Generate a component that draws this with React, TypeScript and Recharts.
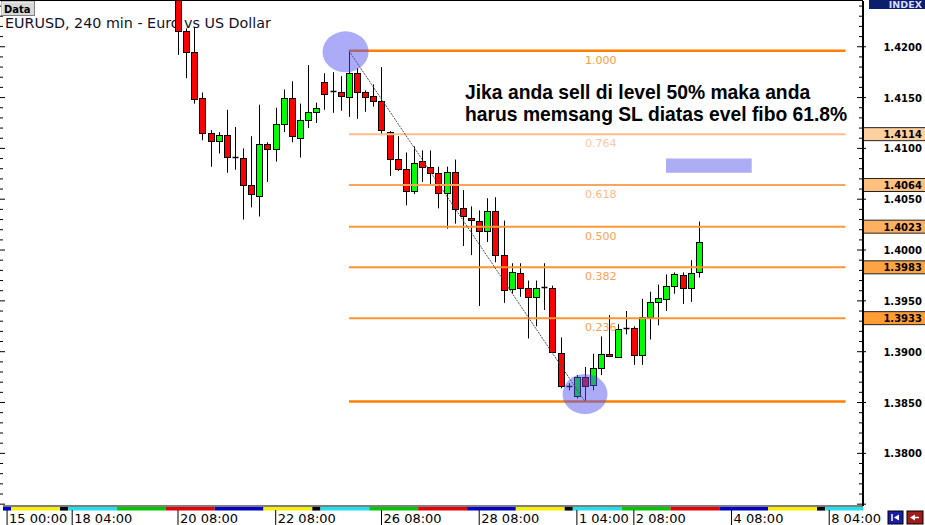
import React from "react";
import {
  ComposedChart,
  Bar,
  XAxis,
  YAxis,
  ReferenceLine,
  ReferenceArea,
  ReferenceDot,
} from "recharts";

// EURUSD H4 candles (one entry per bar)
const opens = [
  1.425, 1.4215, 1.4195, 1.415, 1.4115, 1.4107, 1.4113, 1.4092, 1.4091, 1.4064,
  1.4053, 1.4104, 1.4099, 1.4124, 1.415, 1.411, 1.4128, 1.4136, 1.4165, 1.4156,
  1.4155, 1.4151, 1.4174, 1.4155, 1.4152, 1.4147, 1.4116, 1.409, 1.408, 1.4058,
  1.4088, 1.4082, 1.4076, 1.4056, 1.4077, 1.4041, 1.4032, 1.4029, 1.4019, 1.4038,
  1.3995, 1.3962, 1.3977, 1.3963, 1.3954, 1.3964, 1.3963, 1.3899, 1.3866, 1.3856,
  1.3875, 1.3867, 1.3884, 1.3898, 1.3895, 1.3923, 1.3923, 1.3897, 1.3934, 1.3949,
  1.3952, 1.3965, 1.3975, 1.3963, 1.3978,
];
const highs = [
  1.4262, 1.4218, 1.4219, 1.4155, 1.4118, 1.4116, 1.4138, 1.4121, 1.41, 1.4112,
  1.4143, 1.4106, 1.414, 1.4158, 1.4166, 1.4144, 1.4182, 1.4145, 1.4174, 1.4175,
  1.4171, 1.4196, 1.4179, 1.4157, 1.4163, 1.418, 1.4117, 1.4112, 1.4096, 1.4102,
  1.4098, 1.4098, 1.4082, 1.4082, 1.4089, 1.4059, 1.4043, 1.4039, 1.4051, 1.4052,
  1.4029, 1.3987, 1.3987, 1.397, 1.397, 1.3987, 1.3965, 1.3914, 1.3869, 1.3877,
  1.3885, 1.3898, 1.3915, 1.3936, 1.3927, 1.394, 1.3925, 1.3952, 1.3959, 1.3966,
  1.3976, 1.3978, 1.3978, 1.399, 1.4028,
];
const lows = [
  1.4192, 1.4169, 1.4144, 1.4108, 1.4082, 1.4095, 1.4076, 1.4079, 1.403, 1.4042,
  1.4033, 1.4067, 1.4087, 1.4116, 1.4106, 1.4091, 1.412, 1.4125, 1.4138, 1.4135,
  1.4137, 1.4131, 1.4129, 1.4136, 1.4141, 1.4113, 1.4073, 1.4078, 1.4044, 1.4055,
  1.4067, 1.4064, 1.4041, 1.4021, 1.4026, 1.4004, 1.3995, 1.3945, 1.4008, 1.3988,
  1.3948, 1.3957, 1.3954, 1.3913, 1.3925, 1.3941, 1.3899, 1.3864, 1.3862, 1.3854,
  1.3851, 1.3862, 1.3877, 1.3895, 1.3894, 1.3917, 1.3887, 1.3887, 1.3912, 1.3926,
  1.394, 1.3957, 1.3947, 1.3949, 1.3973,
];
const closes = [
  1.4215, 1.4195, 1.4149, 1.4115, 1.4107, 1.4113, 1.4092, 1.4091, 1.4064, 1.4055,
  1.4104, 1.4099, 1.4124, 1.415, 1.4112, 1.4128, 1.4136, 1.414, 1.4154, 1.4155,
  1.4152, 1.4174, 1.4155, 1.4151, 1.4147, 1.4118, 1.409, 1.408, 1.4058, 1.4086,
  1.4082, 1.4076, 1.4056, 1.4077, 1.404, 1.4033, 1.403, 1.4019, 1.4038, 1.3995,
  1.3961, 1.3978, 1.3963, 1.3954, 1.3963, 1.3964, 1.39, 1.3866, 1.3865, 1.3875,
  1.3866, 1.3884, 1.3898, 1.3896, 1.3922, 1.3922, 1.3897, 1.3934, 1.3949, 1.3953,
  1.3965, 1.3976, 1.3963, 1.3977, 1.4008,
];

// time axis (bar index -> label)
const timeTicks = [-21, -13, 0, 12, 25, 37, 49, 56, 68, 80];
const timeLabels = [
  "15 00:00", "18 04:00", "20 08:00", "22 08:00", "26 08:00",
  "28 08:00", "1 04:00", "2 08:00", "4 08:00", "8 04:00",
];

// fibonacci retracement drawn from the swing high (bar 21) to the swing low (bar 50)
const fibRatios = ["1.000", "0.764", "0.618", "0.500", "0.382", "0.236", "0.000"];
const fibPrices = [1.4196, 1.4114, 1.4064, 1.4023, 1.3983, 1.3933, 1.3851];
const fibBoxed = [false, true, true, true, true, true, false];
const fibFrom = 21;
const fibTo = 82;
const fibLabelAt = 50;
const swingHigh = { i: 21, p: 1.4196 };
const swingLow = { i: 50, p: 1.3851 };

// session colour strip under the plot
const sessionEdges = [
  -21.5, -20.5, -14.5, -13.5, -7.5, -1.5, 4.5, 10.5, 16.5, 17.5, 23.5, 29.5,
  35.5, 41.5, 47.5, 48.5, 54.5, 60.5, 66.5, 72.5, 78.5, 79.5, 84.15,
];
const sessionNames = [
  "thu", "fri", "sun", "mon", "tue", "wed", "thu", "fri", "sun", "mon", "tue",
  "wed", "thu", "fri", "sun", "mon", "tue", "wed", "thu", "fri", "sun", "mon",
];

const xDomain: [number, number] = [-21.5, 84.15];
const yDomain: [number, number] = [1.37482, 1.4245];
const lowestLabel = 1.38;

const priceTicks: number[] = [];
for (let k = 1375; k <= 1424; k++) priceTicks.push(k / 1000);

const sessionColor: Record<string, string> = {
  mon: "#20E0F0",
  tue: "#00C800",
  wed: "#E80000",
  thu: "#0000C8",
  fri: "#F8F000",
  sun: "#000000",
};
const fibLineColor = ["#FF7F00", "#FFBE8C", "#FFA45A", "#FF9838", "#FF9430", "#FF9430", "#FF7F00"];
const fibTextColor = ["#FF9A3C", "#FFC9A2", "#FFB98A", "#FFA352", "#FFA04C", "#FFA04C", "#FF9A3C"];
const fibBoxColor = ["", "#FFD0A0", "#FFC080", "#FFB060", "#FFA444", "#FF9C36", ""];

const rows = opens.map((o, k) => ({
  i: k,
  open: o,
  high: highs[k],
  low: lows[k],
  close: closes[k],
  range: [lows[k], highs[k]],
}));

const font = "'DejaVu Sans', sans-serif";

function Candle(props: any) {
  const { x, y, width, height, payload } = props;
  if (!payload || height == null) return null;
  const cx = Math.round(x + width / 2) + 0.5;
  const top = Math.min(y, y + height);
  const h = Math.abs(height);
  const span = payload.high - payload.low || 1;
  const toY = (v: number) => top + ((payload.high - v) / span) * h;
  const yo = toY(payload.open);
  const yc = toY(payload.close);
  const up = payload.close >= payload.open;
  const bt = Math.round(Math.min(yo, yc)) + 0.5;
  const bb = Math.round(Math.max(yo, yc)) + 0.5;
  return (
    <g>
      <line x1={cx} x2={cx} y1={top} y2={top + h} stroke="#000" strokeWidth={1} />
      {bb - bt < 1.5 ? (
        <line x1={cx - 3} x2={cx + 3} y1={bt} y2={bt} stroke="#000" strokeWidth={1.5} />
      ) : (
        <rect
          x={cx - 3}
          y={bt}
          width={6}
          height={bb - bt}
          fill={up ? "#00FF00" : "#FF0000"}
          stroke="#000"
          strokeWidth={1}
        />
      )}
    </g>
  );
}

function TimeTick(props: any) {
  const { x, y, payload } = props;
  const k = timeTicks.indexOf(payload.value);
  return (
    <g>
      <line x1={x} x2={x} y1={y + 4} y2={y + 19} stroke="#000" />
      <text x={x + 2} y={y + 16.5} fontFamily={font} fontSize={13} fill="#000">
        {timeLabels[k]}
      </text>
    </g>
  );
}

function PriceTick(props: any) {
  const { x, y, payload } = props;
  const v = payload.value as number;
  const major = Math.round(v * 10000) % 50 === 0;
  return (
    <g>
      <line x1={major ? x - 6 : x - 4} x2={x + (major ? 3 : 0)} y1={y} y2={y} stroke="#000" />
      {major && v >= lowestLabel && (
        <text
          x={x + 59}
          y={y + 4}
          textAnchor="end"
          fontFamily={font}
          fontWeight="bold"
          fontSize={10}
          fill="#000"
        >
          {v.toFixed(4)}
        </text>
      )}
    </g>
  );
}

function LeftTick(props: any) {
  const { y, payload } = props;
  const major = Math.round(payload.value * 10000) % 50 === 0;
  return <line x1={0} x2={major ? 5 : 3} y1={y} y2={y} stroke="#000" />;
}

export default function App() {
  return (
    <div style={{ position: "absolute", left: 0, top: 0, width: 925, height: 525, background: "#fff", overflow: "hidden" }}>
      <div
        style={{
          position: "absolute",
          left: 5,
          top: 14,
          fontFamily: font,
          fontSize: 14.3,
          lineHeight: "18px",
          color: "#10102a",
          whiteSpace: "nowrap",
        }}
      >
        EURUSD, 240 min - Euro vs US Dollar
      </div>
      <div style={{ position: "absolute", left: 0, top: 0, width: 863, height: 1, background: "#000" }} />
      <div style={{ position: "absolute", left: 0, top: 0 }}>
        <ComposedChart width={925} height={525} data={rows} margin={{ top: 1, right: 0, bottom: 0, left: 0 }}>
          <XAxis
            type="number"
            dataKey="i"
            domain={xDomain}
            allowDataOverflow
            ticks={timeTicks}
            interval={0}
            height={19}
            tickSize={0}
            tickMargin={0}
            tickLine={false}
            axisLine={{ stroke: "#000" }}
            tick={<TimeTick />}
          />
          <YAxis
            orientation="right"
            type="number"
            domain={yDomain}
            allowDataOverflow
            ticks={priceTicks}
            interval={0}
            width={62}
            tickSize={0}
            tickMargin={0}
            tickLine={false}
            axisLine={{ stroke: "#000", strokeWidth: 2 }}
            tick={<PriceTick />}
          />
          <YAxis
            yAxisId="l"
            orientation="left"
            type="number"
            domain={yDomain}
            allowDataOverflow
            ticks={priceTicks}
            interval={0}
            width={3}
            tickSize={0}
            tickMargin={0}
            tickLine={false}
            axisLine={false}
            tick={<LeftTick />}
          />
          {sessionNames.map((s, k) => (
            <ReferenceArea
              key={"s" + k}
              x1={sessionEdges[k]}
              x2={sessionEdges[k + 1]}
              y1={yDomain[0] - 0.00045}
              y2={yDomain[0] - 0.00009}
              ifOverflow="visible"
              fill={sessionColor[s]}
              fillOpacity={1}
              stroke="none"
            />
          ))}
          <ReferenceArea x1={59.95} x2={70.48} y1={1.4076} y2={1.409} fill="#ADADF6" fillOpacity={1} stroke="none" />
          <Bar dataKey="range" barSize={6} isAnimationActive={false} shape={<Candle />} />
          {fibPrices.map((p, k) => (
            <ReferenceLine
              key={"f" + k}
              segment={[
                { x: fibFrom, y: p },
                { x: fibTo, y: p },
              ]}
              stroke={fibLineColor[k]}
              strokeWidth={k === 0 || k === 6 ? 2.5 : 2}
            />
          ))}
          <ReferenceLine
            segment={[
              { x: swingHigh.i, y: swingHigh.p },
              { x: swingLow.i, y: swingLow.p },
            ]}
            stroke="#505050"
            strokeWidth={1}
            strokeDasharray="2 1"
          />
          {fibPrices.map((p, k) =>
            k === 6 ? null : (
              <ReferenceDot
                key={"t" + k}
                x={fibLabelAt}
                y={p}
                r={0}
                shape={(d: any) => (
                  <text x={d.cx} y={d.cy + 13} fontFamily={font} fontSize={11} fill={fibTextColor[k]}>
                    {fibRatios[k]}
                  </text>
                )}
              />
            )
          )}
          {fibPrices.map((p, k) =>
            fibBoxed[k] ? (
              <ReferenceDot
                key={"b" + k}
                x={xDomain[1]}
                y={p}
                r={0}
                ifOverflow="visible"
                shape={(d: any) => (
                  <g>
                    <rect x={d.cx + 1} y={d.cy - 6.5} width={61} height={13} fill={fibBoxColor[k]} />
                    <line x1={d.cx + 1} x2={d.cx + 62} y1={d.cy - 6.5} y2={d.cy - 6.5} stroke="#222" />
                    <line x1={d.cx + 1} x2={d.cx + 62} y1={d.cy + 6.5} y2={d.cy + 6.5} stroke="#222" />
                    <text
                      x={d.cx + 59}
                      y={d.cy + 4}
                      textAnchor="end"
                      fontFamily={font}
                      fontWeight="bold"
                      fontSize={10}
                      fill="#000"
                    >
                      {p.toFixed(4)}
                    </text>
                  </g>
                )}
              />
            ) : null
          )}
          <ReferenceDot
            x={20.58}
            y={1.4195}
            r={0}
            shape={(d: any) => <ellipse cx={d.cx} cy={d.cy} rx={23} ry={20.5} fill="#5050EE" fillOpacity={0.48} />}
          />
          <ReferenceDot
            x={50}
            y={1.38583}
            r={0}
            shape={(d: any) => <ellipse cx={d.cx} cy={d.cy} rx={22.5} ry={20} fill="#5050EE" fillOpacity={0.48} />}
          />
          <ReferenceDot
            x={35.26}
            y={1.41486}
            r={0}
            shape={(d: any) => (
              <g fontFamily="'Liberation Sans', Arial, sans-serif" fontWeight="bold" fontSize={19.3} fill="#000">
                <text x={d.cx} y={d.cy}>Jika anda sell di level 50% maka anda</text>
                <text x={d.cx} y={d.cy + 22}>harus memsang SL diatas evel fibo 61.8%</text>
              </g>
            )}
          />
        </ComposedChart>
      </div>
      <svg style={{ position: "absolute", left: 0, top: 0 }} width={925} height={525}>
        <rect x={1.5} y={1.5} width={33} height={14} fill="#D8D8D8" stroke="#808080" />
        <line x1={2} x2={34} y1={2} y2={2} stroke="#fff" />
        <line x1={2} x2={2} y1={2} y2={15} stroke="#fff" />
        <text x={4} y={12.5} fontFamily={font} fontWeight="bold" fontSize={10} fill="#000">
          Data
        </text>
        <rect x={869} y={0} width={56} height={9} fill="#0A1E6E" />
        <text x={922} y={8} textAnchor="end" fontFamily={font} fontWeight="bold" fontSize={9.5} fill="#D8DCFF">
          INDEX
        </text>
        <rect x={888} y={511} width={15} height={13} fill="#1C1CA8" stroke="#000" />
        <line x1={892} x2={892} y1={514} y2={521} stroke="#fff" strokeWidth={1.5} />
        <path d="M894 517.5 L899 514.5 L899 520.5 Z" fill="#fff" />
        <rect x={907} y={511} width={16} height={13} fill="#A01C1C" stroke="#000" />
        <path d="M910 517.5 L915 514.5 L915 520.5 Z" fill="#fff" />
        <line x1={914} x2={919} y1={517.5} y2={517.5} stroke="#fff" strokeWidth={1.5} />
      </svg>
    </div>
  );
}
